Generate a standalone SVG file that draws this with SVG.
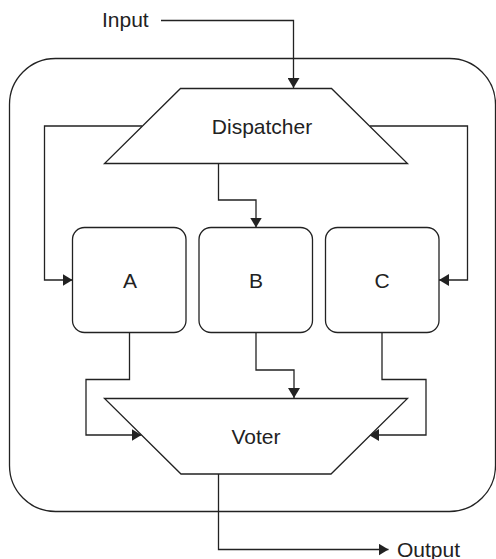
<svg xmlns="http://www.w3.org/2000/svg" width="496" height="559" viewBox="0 0 496 559">
  <defs>
    <style>
      .shape { fill: #ffffff; stroke: #222222; stroke-width: 1.3; }
      .wire { fill: none; stroke: #222222; stroke-width: 1.3; }
      .label { font-family: "Liberation Sans", Arial, sans-serif; font-size: 21px; fill: #222222; }
      .mid { text-anchor: middle; }
    </style>
    <marker id="arrow" viewBox="0 0 10 12" refX="10" refY="6" markerWidth="10" markerHeight="12" markerUnits="userSpaceOnUse" orient="auto">
      <path d="M0,0 L10,6 L0,12 Z" fill="#222222"/>
    </marker>
  </defs>
  <rect width="496" height="559" fill="#ffffff"/>

  <!-- enclosing system boundary -->
  <g id="system">
    <rect class="shape" x="9.5" y="58.5" width="486" height="453" rx="46" ry="46"/>
  </g>

  <!-- connectors -->
  <g id="connectors">
    <path class="wire" d="M161,20.5 H293.5 V88" marker-end="url(#arrow)"/>
    <path class="wire" d="M142,126 H44.5 V280 H72.5" marker-end="url(#arrow)"/>
    <path class="wire" d="M370,126 H467.5 V280 H439" marker-end="url(#arrow)"/>
    <path class="wire" d="M218.5,163 V200 H256 V227.5" marker-end="url(#arrow)"/>
    <path class="wire" d="M129.5,333 V379.5 H86 V435 H141.5" marker-end="url(#arrow)"/>
    <path class="wire" d="M256,333 V370 H294 V398" marker-end="url(#arrow)"/>
    <path class="wire" d="M382,333 V379.5 H426 V435 H369" marker-end="url(#arrow)"/>
    <path class="wire" d="M218.5,474 V549.5 H388.5" marker-end="url(#arrow)"/>
  </g>

  <g id="input-label">
    <text class="label" x="102" y="27">Input</text>
  </g>

  <g id="dispatcher">
    <polygon class="shape" points="180.5,88.5 331.5,88.5 407.5,163.5 104.5,163.5"/>
    <text class="label mid" x="262" y="133.5">Dispatcher</text>
  </g>

  <g id="module-a">
    <rect class="shape" x="72.5" y="227.5" width="113.5" height="105" rx="12" ry="12"/>
    <text class="label mid" x="130" y="287.5">A</text>
  </g>

  <g id="module-b">
    <rect class="shape" x="199" y="227.5" width="113.5" height="105" rx="12" ry="12"/>
    <text class="label mid" x="256" y="287.5">B</text>
  </g>

  <g id="module-c">
    <rect class="shape" x="325.5" y="227.5" width="113.5" height="105" rx="12" ry="12"/>
    <text class="label mid" x="382" y="287.5">C</text>
  </g>

  <g id="voter">
    <polygon class="shape" points="104.5,398.5 407.5,398.5 331,474 181,474"/>
    <text class="label mid" x="256" y="443.5">Voter</text>
  </g>

  <g id="output-label">
    <text class="label" x="397" y="556.5">Output</text>
  </g>
</svg>
